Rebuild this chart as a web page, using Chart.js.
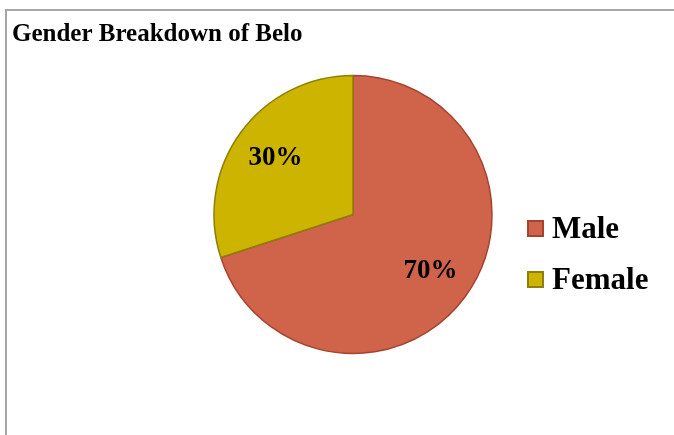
<!DOCTYPE html>
<html>
<head>
<meta charset="utf-8">
<title>Gender Breakdown of Belo</title>
<script src="https://cdn.jsdelivr.net/npm/chart.js@4/dist/chart.umd.min.js"></script>
<style>
  html, body { margin: 0; padding: 0; background: #fff; overflow: hidden; width: 674px; height: 435px; }
  .frame { position: absolute; left: 5px; top: 9px; width: 800px; height: 600px; border: 2px solid #a6a6a6; }
  #myChart { position: absolute; left: 0; top: 0; }
  #legend { position: absolute; left: 527px; top: 220px; margin: 0; padding: 0; list-style: none; }
  #legend li { display: flex; align-items: center; height: 17px; margin-bottom: 34px; }
  #legend .box { width: 17px; height: 17px; box-sizing: border-box; border: 2px solid; }
  #legend .txt { position: relative; top: -1px; margin-left: 8px; font: bold 31px "Liberation Serif", serif; line-height: 17px; color: #000; }
</style>
</head>
<body>
<div class="frame"></div>
<canvas id="myChart" width="694" height="435"></canvas>
<ul id="legend"></ul>
<script>
const labels = ['Male', 'Female'];
const shares = [70, 30];
const fills = ['#d0644b', '#ccb400'];
const borders = ['#a5432f', '#8f7e0a'];

// legend as html list (chart legend itself is off)
const htmlLegend = {
  id: 'htmlLegend',
  afterUpdate(chart) {
    const $list = document.getElementById('legend');
    $list.innerHTML = '';
    const items = chart.options.plugins.legend.labels.generateLabels(chart);
    items.forEach((item) => {
      const li = document.createElement('li');
      const box = document.createElement('span');
      box.className = 'box';
      box.style.background = item.fillStyle;
      box.style.borderColor = item.strokeStyle;
      const txt = document.createElement('span');
      txt.className = 'txt';
      txt.textContent = item.text;
      li.append(box, txt);
      $list.appendChild(li);
    });
  },
};

// percentage inside each slice
const pctLabels = {
  id: 'pctLabels',
  afterDatasetsDraw(chart) {
    const { ctx } = chart;
    const values = chart.data.datasets[0].data;
    const total = values.reduce((a, b) => a + b, 0);
    ctx.save();
    ctx.font = 'bold 27px "Liberation Serif"';
    ctx.fillStyle = '#000';
    ctx.textAlign = 'center';
    ctx.textBaseline = 'middle';
    chart.getDatasetMeta(0).data.forEach((arc, i) => {
      const { x, y, startAngle, endAngle, outerRadius } = arc.getProps(['x', 'y', 'startAngle', 'endAngle', 'outerRadius'], true);
      const mid = (startAngle + endAngle) / 2;
      const r = outerRadius * 0.69;
      ctx.fillText(`${Math.round((values[i] / total) * 100)}%`, x + Math.cos(mid) * r, y + Math.sin(mid) * r);
    });
    ctx.restore();
  },
};

const data = {
  labels,
  datasets: [{
    data: shares,
    backgroundColor: fills,
    borderColor: borders,
    borderWidth: 1.5,
  }],
};

const config = {
  type: 'pie',
  data,
  options: {
    responsive: false,
    animation: false,
    devicePixelRatio: 1,
    radius: 139,
    layout: { padding: { left: 12, right: 0, top: 0, bottom: 81 } },
    plugins: {
      legend: { display: false },
      tooltip: { enabled: false },
      title: {
        display: true,
        text: 'Gender Breakdown of Belo',
        align: 'start',
        color: '#000',
        font: { family: '"Liberation Serif"', size: 25, weight: 'bold', lineHeight: 1.2 },
        padding: { top: 20, bottom: 25 },
      },
    },
  },
  plugins: [htmlLegend, pctLabels],
};

const myChart = new Chart(document.getElementById('myChart'), config);
</script>
</body>
</html>
